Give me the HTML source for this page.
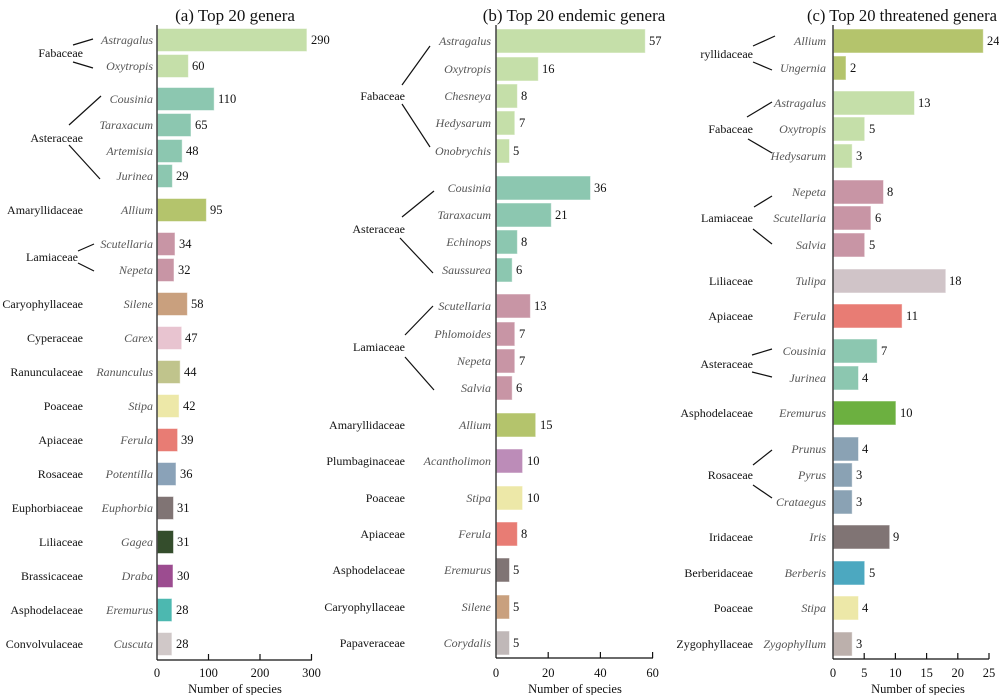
<!DOCTYPE html>
<html><head><meta charset="utf-8"><style>
html,body{margin:0;padding:0;background:#fff;}
svg{display:block;}
text{font-family:"Liberation Serif","Times New Roman",Times,serif;}
.f{font-size:12px;fill:#111;text-anchor:end;}
.g{font-size:12px;fill:#555;font-style:italic;text-anchor:end;}
.v{font-size:12.5px;fill:#111;}
.t{font-size:12.5px;fill:#111;text-anchor:middle;}
.h{font-size:17px;fill:#111;text-anchor:middle;}
line{stroke:#111;stroke-width:1.2;}
rect{stroke:#fff;stroke-opacity:.5;stroke-width:1;}
</style></head><body>
<svg width="999" height="695" viewBox="0 0 999 695" xmlns="http://www.w3.org/2000/svg" font-family="Liberation Serif, serif">
<text class="h" x="235" y="21">(a) Top 20 genera</text>
<text class="h" x="574" y="21">(b) Top 20 endemic genera</text>
<text class="h" x="807" y="21" style="text-anchor:start" textLength="190" lengthAdjust="spacingAndGlyphs">(c) Top 20 threatened genera</text>

<g>
<rect x="157.5" y="28.5" width="149.4" height="23" fill="#c5dfa9"/><text class="g" x="153" y="44">Astragalus</text><text class="v" x="311" y="44">290</text>
<rect x="157.5" y="54.5" width="30.9" height="23" fill="#c5dfa9"/><text class="g" x="153" y="70">Oxytropis</text><text class="v" x="192" y="70">60</text>
<rect x="157.5" y="87.5" width="56.7" height="23" fill="#8cc7b0"/><text class="g" x="153" y="103">Cousinia</text><text class="v" x="218" y="103">110</text>
<rect x="157.5" y="113.5" width="33.5" height="23" fill="#8cc7b0"/><text class="g" x="153" y="129">Taraxacum</text><text class="v" x="195" y="129">65</text>
<rect x="157.5" y="139.5" width="24.7" height="23" fill="#8cc7b0"/><text class="g" x="153" y="155">Artemisia</text><text class="v" x="186" y="155">48</text>
<rect x="157.5" y="164.5" width="14.9" height="23" fill="#8cc7b0"/><text class="g" x="153" y="180">Jurinea</text><text class="v" x="176" y="180">29</text>
<rect x="157.5" y="198.5" width="48.9" height="23" fill="#b4c46c"/><text class="g" x="153" y="214">Allium</text><text class="v" x="210" y="214">95</text>
<rect x="157.5" y="232.5" width="17.5" height="23" fill="#c895a5"/><text class="g" x="153" y="248">Scutellaria</text><text class="v" x="179" y="248">34</text>
<rect x="157.5" y="258.5" width="16.5" height="23" fill="#c895a5"/><text class="g" x="153" y="274">Nepeta</text><text class="v" x="178" y="274">32</text>
<rect x="157.5" y="292.5" width="29.9" height="23" fill="#c9a07e"/><text class="g" x="153" y="308">Silene</text><text class="v" x="191" y="308">58</text>
<rect x="157.5" y="326.5" width="24.2" height="23" fill="#e8c4d0"/><text class="g" x="153" y="342">Carex</text><text class="v" x="185" y="342">47</text>
<rect x="157.5" y="360.5" width="22.7" height="23" fill="#c0c48c"/><text class="g" x="153" y="376">Ranunculus</text><text class="v" x="184" y="376">44</text>
<rect x="157.5" y="394.5" width="21.6" height="23" fill="#ede8a8"/><text class="g" x="153" y="410">Stipa</text><text class="v" x="183" y="410">42</text>
<rect x="157.5" y="428.5" width="20.1" height="23" fill="#e87c74"/><text class="g" x="153" y="444">Ferula</text><text class="v" x="181" y="444">39</text>
<rect x="157.5" y="462.5" width="18.5" height="23" fill="#8aa2b8"/><text class="g" x="153" y="478">Potentilla</text><text class="v" x="180" y="478">36</text>
<rect x="157.5" y="496.5" width="16" height="23" fill="#807474"/><text class="g" x="153" y="512">Euphorbia</text><text class="v" x="177" y="512">31</text>
<rect x="157.5" y="530.5" width="16" height="23" fill="#344d2c"/><text class="g" x="153" y="546">Gagea</text><text class="v" x="177" y="546">31</text>
<rect x="157.5" y="564.5" width="15.5" height="23" fill="#9c4c90"/><text class="g" x="153" y="580">Draba</text><text class="v" x="177" y="580">30</text>
<rect x="157.5" y="598.5" width="14.4" height="23" fill="#4cb8b0"/><text class="g" x="153" y="614">Eremurus</text><text class="v" x="176" y="614">28</text>
<rect x="157.5" y="632.5" width="14.4" height="23" fill="#d0c8c8"/><text class="g" x="153" y="648">Cuscuta</text><text class="v" x="176" y="648">28</text>

<text class="f" x="83" y="57">Fabaceae</text>
<text class="f" x="83" y="142">Asteraceae</text>
<text class="f" x="83" y="214">Amaryllidaceae</text>
<text class="f" x="78" y="261">Lamiaceae</text>
<text class="f" x="83" y="308">Caryophyllaceae</text>
<text class="f" x="83" y="342">Cyperaceae</text>
<text class="f" x="83" y="376">Ranunculaceae</text>
<text class="f" x="83" y="410">Poaceae</text>
<text class="f" x="83" y="444">Apiaceae</text>
<text class="f" x="83" y="478">Rosaceae</text>
<text class="f" x="83" y="512">Euphorbiaceae</text>
<text class="f" x="83" y="546">Liliaceae</text>
<text class="f" x="83" y="580">Brassicaceae</text>
<text class="f" x="83" y="614">Asphodelaceae</text>
<text class="f" x="83" y="648">Convolvulaceae</text>

<line x1="73" y1="45" x2="93" y2="39"/><line x1="73" y1="62" x2="93" y2="68"/>
<line x1="69" y1="125" x2="101" y2="96"/><line x1="69" y1="145" x2="100" y2="179"/>
<line x1="78" y1="251" x2="94" y2="244"/><line x1="78" y1="263" x2="94" y2="271"/>

<line x1="157" y1="25" x2="157" y2="660"/>
<line x1="157" y1="660" x2="312" y2="660"/>
<line x1="208.5" y1="654" x2="208.5" y2="660"/><line x1="260" y1="654" x2="260" y2="660"/><line x1="311.5" y1="654" x2="311.5" y2="660"/>
<text class="t" x="157" y="677">0</text><text class="t" x="208.5" y="677">100</text><text class="t" x="260" y="677">200</text><text class="t" x="311.5" y="677">300</text>
<text class="t" x="235" y="693">Number of species</text>
</g>

<g>
<rect x="496.5" y="29" width="148.8" height="24" fill="#c5dfa9"/><text class="g" x="491" y="45">Astragalus</text><text class="v" x="649" y="45">57</text>
<rect x="496.5" y="57" width="41.8" height="24" fill="#c5dfa9"/><text class="g" x="491" y="73">Oxytropis</text><text class="v" x="542" y="73">16</text>
<rect x="496.5" y="84" width="20.9" height="24" fill="#c5dfa9"/><text class="g" x="491" y="100">Chesneya</text><text class="v" x="521" y="100">8</text>
<rect x="496.5" y="111" width="18.3" height="24" fill="#c5dfa9"/><text class="g" x="491" y="127">Hedysarum</text><text class="v" x="519" y="127">7</text>
<rect x="496.5" y="139" width="13" height="24" fill="#c5dfa9"/><text class="g" x="491" y="155">Onobrychis</text><text class="v" x="513" y="155">5</text>
<rect x="496.5" y="176" width="94" height="24" fill="#8cc7b0"/><text class="g" x="491" y="192">Cousinia</text><text class="v" x="594" y="192">36</text>
<rect x="496.5" y="203" width="54.8" height="24" fill="#8cc7b0"/><text class="g" x="491" y="219">Taraxacum</text><text class="v" x="555" y="219">21</text>
<rect x="496.5" y="230" width="20.9" height="24" fill="#8cc7b0"/><text class="g" x="491" y="246">Echinops</text><text class="v" x="521" y="246">8</text>
<rect x="496.5" y="258" width="15.7" height="24" fill="#8cc7b0"/><text class="g" x="491" y="274">Saussurea</text><text class="v" x="516" y="274">6</text>
<rect x="496.5" y="294" width="33.9" height="24" fill="#c895a5"/><text class="g" x="491" y="310">Scutellaria</text><text class="v" x="534" y="310">13</text>
<rect x="496.5" y="322" width="18.3" height="24" fill="#c895a5"/><text class="g" x="491" y="338">Phlomoides</text><text class="v" x="519" y="338">7</text>
<rect x="496.5" y="349" width="18.3" height="24" fill="#c895a5"/><text class="g" x="491" y="365">Nepeta</text><text class="v" x="519" y="365">7</text>
<rect x="496.5" y="376" width="15.7" height="24" fill="#c895a5"/><text class="g" x="491" y="392">Salvia</text><text class="v" x="516" y="392">6</text>
<rect x="496.5" y="413" width="39.2" height="24" fill="#b4c46c"/><text class="g" x="491" y="429">Allium</text><text class="v" x="540" y="429">15</text>
<rect x="496.5" y="449" width="26.1" height="24" fill="#bc8cb8"/><text class="g" x="491" y="465">Acantholimon</text><text class="v" x="527" y="465">10</text>
<rect x="496.5" y="486" width="26.1" height="24" fill="#ede8a8"/><text class="g" x="491" y="502">Stipa</text><text class="v" x="527" y="502">10</text>
<rect x="496.5" y="522" width="20.9" height="24" fill="#e87c74"/><text class="g" x="491" y="538">Ferula</text><text class="v" x="521" y="538">8</text>
<rect x="496.5" y="558" width="13" height="24" fill="#807474"/><text class="g" x="491" y="574">Eremurus</text><text class="v" x="513" y="574">5</text>
<rect x="496.5" y="595" width="13" height="24" fill="#c9a07e"/><text class="g" x="491" y="611">Silene</text><text class="v" x="513" y="611">5</text>
<rect x="496.5" y="631" width="13" height="24" fill="#c0b8b8"/><text class="g" x="491" y="647">Corydalis</text><text class="v" x="513" y="647">5</text>

<text class="f" x="405" y="100">Fabaceae</text>
<text class="f" x="405" y="233">Asteraceae</text>
<text class="f" x="405" y="351">Lamiaceae</text>
<text class="f" x="405" y="429">Amaryllidaceae</text>
<text class="f" x="405" y="465">Plumbaginaceae</text>
<text class="f" x="405" y="502">Poaceae</text>
<text class="f" x="405" y="538">Apiaceae</text>
<text class="f" x="405" y="574">Asphodelaceae</text>
<text class="f" x="405" y="611">Caryophyllaceae</text>
<text class="f" x="405" y="647">Papaveraceae</text>

<line x1="402" y1="85" x2="430" y2="46"/><line x1="402" y1="104" x2="430" y2="147"/>
<line x1="402" y1="217" x2="434" y2="191"/><line x1="400" y1="238" x2="433" y2="273"/>
<line x1="405" y1="335" x2="433" y2="306"/><line x1="405" y1="357" x2="434" y2="390"/>

<line x1="496" y1="25" x2="496" y2="658"/>
<line x1="496" y1="658" x2="653" y2="658"/>
<line x1="548.2" y1="652" x2="548.2" y2="658"/><line x1="600.4" y1="652" x2="600.4" y2="658"/><line x1="652.6" y1="652" x2="652.6" y2="658"/>
<text class="t" x="496" y="677">0</text><text class="t" x="548.2" y="677">20</text><text class="t" x="600.4" y="677">40</text><text class="t" x="652.6" y="677">60</text>
<text class="t" x="575" y="693">Number of species</text>
</g>

<g>
<rect x="833.5" y="29" width="149.8" height="24" fill="#b4c46c"/><text class="g" x="826" y="45">Allium</text><text class="v" x="987" y="45">24</text>
<rect x="833.5" y="56" width="12.5" height="24" fill="#b4c46c"/><text class="g" x="826" y="72">Ungernia</text><text class="v" x="850" y="72">2</text>
<rect x="833.5" y="91" width="81" height="24" fill="#c5dfa9"/><text class="g" x="826" y="107">Astragalus</text><text class="v" x="918" y="107">13</text>
<rect x="833.5" y="117" width="31.2" height="24" fill="#c5dfa9"/><text class="g" x="826" y="133">Oxytropis</text><text class="v" x="869" y="133">5</text>
<rect x="833.5" y="144" width="18.7" height="24" fill="#c5dfa9"/><text class="g" x="826" y="160">Hedysarum</text><text class="v" x="856" y="160">3</text>
<rect x="833.5" y="180" width="50" height="24" fill="#c895a5"/><text class="g" x="826" y="196">Nepeta</text><text class="v" x="887" y="196">8</text>
<rect x="833.5" y="206" width="37.4" height="24" fill="#c895a5"/><text class="g" x="826" y="222">Scutellaria</text><text class="v" x="875" y="222">6</text>
<rect x="833.5" y="233" width="31.2" height="24" fill="#c895a5"/><text class="g" x="826" y="249">Salvia</text><text class="v" x="869" y="249">5</text>
<rect x="833.5" y="269" width="112.3" height="24" fill="#d0c4c8"/><text class="g" x="826" y="285">Tulipa</text><text class="v" x="949" y="285">18</text>
<rect x="833.5" y="304" width="68.6" height="24" fill="#e87c74"/><text class="g" x="826" y="320">Ferula</text><text class="v" x="906" y="320">11</text>
<rect x="833.5" y="339" width="43.7" height="24" fill="#8cc7b0"/><text class="g" x="826" y="355">Cousinia</text><text class="v" x="881" y="355">7</text>
<rect x="833.5" y="366" width="25" height="24" fill="#8cc7b0"/><text class="g" x="826" y="382">Jurinea</text><text class="v" x="862" y="382">4</text>
<rect x="833.5" y="401" width="62.4" height="24" fill="#6cb040"/><text class="g" x="826" y="417">Eremurus</text><text class="v" x="900" y="417">10</text>
<rect x="833.5" y="437" width="25" height="24" fill="#8aa2b4"/><text class="g" x="826" y="453">Prunus</text><text class="v" x="862" y="453">4</text>
<rect x="833.5" y="463" width="18.7" height="24" fill="#8aa2b4"/><text class="g" x="826" y="479">Pyrus</text><text class="v" x="856" y="479">3</text>
<rect x="833.5" y="490" width="18.7" height="24" fill="#8aa2b4"/><text class="g" x="826" y="506">Crataegus</text><text class="v" x="856" y="506">3</text>
<rect x="833.5" y="525" width="56.2" height="24" fill="#807474"/><text class="g" x="826" y="541">Iris</text><text class="v" x="893" y="541">9</text>
<rect x="833.5" y="561" width="31.2" height="24" fill="#4ca8c0"/><text class="g" x="826" y="577">Berberis</text><text class="v" x="869" y="577">5</text>
<rect x="833.5" y="596" width="25" height="24" fill="#ede8a8"/><text class="g" x="826" y="612">Stipa</text><text class="v" x="862" y="612">4</text>
<rect x="833.5" y="632" width="18.7" height="24" fill="#bcb0ac"/><text class="g" x="826" y="648">Zygophyllum</text><text class="v" x="856" y="648">3</text>

<text class="f" x="753" y="58">ryllidaceae</text>
<text class="f" x="753" y="133">Fabaceae</text>
<text class="f" x="753" y="222">Lamiaceae</text>
<text class="f" x="753" y="285">Liliaceae</text>
<text class="f" x="753" y="320">Apiaceae</text>
<text class="f" x="753" y="368">Asteraceae</text>
<text class="f" x="753" y="417">Asphodelaceae</text>
<text class="f" x="753" y="479">Rosaceae</text>
<text class="f" x="753" y="541">Iridaceae</text>
<text class="f" x="753" y="577">Berberidaceae</text>
<text class="f" x="753" y="612">Poaceae</text>
<text class="f" x="753" y="648">Zygophyllaceae</text>

<line x1="753" y1="46" x2="775" y2="36"/><line x1="753" y1="62" x2="772" y2="70"/>
<line x1="747" y1="117" x2="772" y2="102"/><line x1="748" y1="139" x2="772" y2="153"/>
<line x1="754" y1="207" x2="772" y2="196"/><line x1="753" y1="229" x2="772" y2="244"/>
<line x1="752" y1="355" x2="772" y2="349"/><line x1="752" y1="372" x2="772" y2="377"/>
<line x1="753" y1="465" x2="772" y2="450"/><line x1="753" y1="485" x2="772" y2="498"/>

<line x1="833" y1="25" x2="833" y2="659"/>
<line x1="833" y1="659" x2="989" y2="659"/>
<line x1="864.2" y1="653" x2="864.2" y2="659"/><line x1="895.4" y1="653" x2="895.4" y2="659"/><line x1="926.6" y1="653" x2="926.6" y2="659"/><line x1="957.8" y1="653" x2="957.8" y2="659"/><line x1="989" y1="653" x2="989" y2="659"/>
<text class="t" x="833" y="677">0</text><text class="t" x="864.2" y="677">5</text><text class="t" x="895.4" y="677">10</text><text class="t" x="926.6" y="677">15</text><text class="t" x="957.8" y="677">20</text><text class="t" x="989" y="677">25</text>
<text class="t" x="918" y="693">Number of species</text>
</g>
</svg>
</body></html>
